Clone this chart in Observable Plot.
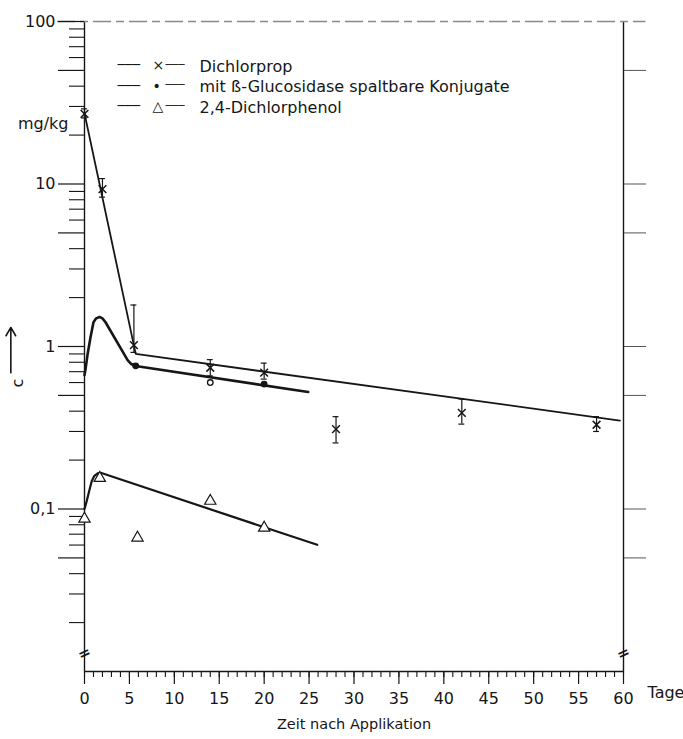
<!DOCTYPE html>
<html>
<head>
<meta charset="utf-8">
<script src="https://cdn.jsdelivr.net/npm/d3@7"></script>
<script src="https://cdn.jsdelivr.net/npm/@observablehq/plot@0.6"></script>
<style>
  html, body { margin: 0; padding: 0; background: #fff; }
  #chart svg { display: block; }
</style>
</head>
<body>
<div id="chart"></div>
<script>
// ---- Dichlorprop (measured, with error bars) ----
const dpDays = [0, 2, 5.5, 14, 20, 28, 42, 57];
const dpValues = [27, 9.3, 1.02, 0.74, 0.69, 0.31, 0.39, 0.33];
const dpLow = [25.5, 8.3, 0.92, 0.66, 0.63, 0.255, 0.333, 0.30];
const dpHigh = [29, 10.8, 1.8, 0.83, 0.79, 0.37, 0.475, 0.37];
// Dichlorprop fitted line
const dpFitDays = [0, 5.7, 59.6];
const dpFitValues = [27.2, 0.90, 0.35];

// ---- Conjugates cleavable by ß-Glucosidase ----
const cjDays = [5.7, 14, 20];
const cjValues = [0.76, 0.60, 0.587];
const cjOpen = [false, true, false];
const cjFitDays = [0, 0.1, 0.35, 0.67, 1.0, 1.3, 1.67, 2.0, 2.34, 4.8, 5.2, 5.7, 24.9];
const cjFitValues = [0.667, 0.716, 0.9, 1.14, 1.41, 1.49, 1.52, 1.49, 1.41, 0.825, 0.78, 0.758, 0.525];

// ---- 2,4-Dichlorphenol ----
const phDays = [0, 1.7, 5.9, 14, 20];
const phValues = [0.087, 0.155, 0.0665, 0.112, 0.0766];
const phFitDays = [0, 0.25, 0.55, 0.8, 1.1, 1.5, 1.8, 25.9];
const phFitValues = [0.1, 0.112, 0.131, 0.148, 0.160, 0.166, 0.167, 0.0602];

// ---- axes ----
const yMajorTicks = [100, 50, 10, 5, 1, 0.5, 0.1, 0.05];
const yMinorTicks = [90, 80, 70, 60, 40, 30, 20, 9, 8, 7, 6, 4, 3, 2, 0.9, 0.8, 0.7, 0.6, 0.4, 0.3, 0.2, 0.09, 0.08, 0.07, 0.06, 0.04, 0.03, 0.02];
const yRightTicks = [50, 10, 5, 1, 0.5, 0.1, 0.05];
const xMinorTicks = d3.range(0, 61, 1);
const xMajorTicks = d3.range(0, 61, 5);

// ---- legend ----
const legendLabels = ["Dichlorprop", "mit ß-Glucosidase spaltbare Konjugate", "2,4-Dichlorphenol"];
const legendSymbols = ["×", "•", "△"];

// ---- annotation (concentration arrow) ----
const arrowX = [-8.2];
const arrowFrom = [0.69];
const arrowTo = [1.31];
const breakMarkDays = [0, 60];
const breakMarkValue = 0.0129;

const ink = "#161616";
const font = "DejaVu Sans, sans-serif";
const germanFormat = d => String(d).replace(".", ",");

const dp = dpDays.map((d, i) => ({day: d, value: dpValues[i], lo: dpLow[i], hi: dpHigh[i]}));
const dpFit = dpFitDays.map((d, i) => ({day: d, value: dpFitValues[i]}));
const cj = cjDays.map((d, i) => ({day: d, value: cjValues[i], open: cjOpen[i]}));
const cjFit = cjFitDays.map((d, i) => ({day: d, value: cjFitValues[i]}));
const ph = phDays.map((d, i) => ({day: d, value: phValues[i]}));
const phFit = phFitDays.map((d, i) => ({day: d, value: phFitValues[i]}));
const capHalf = 0.33;

const legendMarks = legendLabels.flatMap((label, i) => {
  const dy = 39 + i * 20.5;
  return [
    Plot.text([label], {frameAnchor: "top-left", dx: 33, dy, text: () => "───", textAnchor: "start", fontSize: 12.5, fill: ink}),
    Plot.text([label], {frameAnchor: "top-left", dx: 68, dy, text: () => legendSymbols[i], fontSize: 14, fill: ink}),
    Plot.text([label], {frameAnchor: "top-left", dx: 81, dy, text: () => "───", textAnchor: "start", fontSize: 10.5, fill: ink}),
    Plot.text([label], {frameAnchor: "top-left", dx: 115, dy, textAnchor: "start", fontSize: 16, fill: ink})
  ];
});

const chart = Plot.plot({
  width: 683,
  height: 739,
  marginLeft: 84,
  marginRight: 60,
  marginTop: 21,
  marginBottom: 68,
  style: {fontFamily: font, color: ink, background: "#fff", overflow: "visible"},
  x: {domain: [0, 60]},
  y: {type: "log", domain: [0.01, 100]},
  marks: [
    // frame lines
    Plot.ruleX([0, 60], {stroke: ink, strokeWidth: 1.4}),
    Plot.ruleY([0.01], {stroke: ink, strokeWidth: 1.4}),
    Plot.ruleY([100], {x1: -3, x2: 62.5, stroke: "#888", strokeWidth: 1.3, strokeDasharray: "18,5,8,5"}),
    // axis break marks
    Plot.text(breakMarkDays, {x: d => d, y: () => breakMarkValue, text: () => "=", rotate: -25, fontSize: 15, fontWeight: "bold", fill: ink}),
    // y axes
    Plot.axisY({anchor: "left", ticks: yMajorTicks, tickSize: 26, tickPadding: 3, tickFormat: germanFormat, fontSize: 16, label: null, stroke: ink, strokeWidth: 1.2}),
    Plot.axisY({anchor: "left", ticks: yMinorTicks, tickSize: 15, tickFormat: () => "", label: null, stroke: ink, strokeWidth: 1.1}),
    Plot.axisY({anchor: "right", ticks: yRightTicks, tickSize: 22, tickFormat: () => "", label: null, stroke: "#555", strokeWidth: 1}),
    // x axes
    Plot.axisX({anchor: "bottom", ticks: xMinorTicks, tickSize: 6, tickFormat: () => "", label: null, stroke: ink, strokeWidth: 1.1}),
    Plot.axisX({anchor: "bottom", ticks: xMajorTicks, tickSize: 13, tickPadding: 8, fontSize: 16, label: null, stroke: ink, strokeWidth: 1.2}),
    Plot.text(["Tage"], {frameAnchor: "bottom-right", dx: 24, dy: 26, textAnchor: "start", fontSize: 16, fill: ink}),
    Plot.text(["Zeit nach Applikation"], {frameAnchor: "bottom", dy: 57, fontSize: 14.5, fill: ink}),
    // y unit and variable
    Plot.text(["mg/kg"], {frameAnchor: "top-left", dx: -16, dy: 96, textAnchor: "end", fontSize: 16, fill: ink}),
    Plot.text(["c"], {frameAnchor: "top-left", dx: -73, dy: 366, rotate: -90, fontSize: 16, fill: ink}),
    Plot.arrow(arrowX, {x: d => d, y1: (d, i) => arrowFrom[i], y2: (d, i) => arrowTo[i], stroke: ink, strokeWidth: 1.6, headLength: 9, clip: false}),
    // fitted lines
    Plot.line(dpFit, {x: "day", y: "value", stroke: ink, strokeWidth: 1.8}),
    Plot.line(cjFit, {x: "day", y: "value", stroke: ink, strokeWidth: 2.6, curve: "linear", strokeLinejoin: "round"}),
    Plot.line(phFit, {x: "day", y: "value", stroke: ink, strokeWidth: 2.2, curve: "linear", strokeLinejoin: "round"}),
    // Dichlorprop error bars
    Plot.ruleX(dp, {x: "day", y1: "lo", y2: "hi", stroke: ink, strokeWidth: 1.2}),
    Plot.ruleY(dp, {y: "hi", x1: d => d.day - capHalf, x2: d => d.day + capHalf, stroke: ink, strokeWidth: 1.2}),
    Plot.ruleY(dp, {y: "lo", x1: d => d.day - capHalf, x2: d => d.day + capHalf, stroke: ink, strokeWidth: 1.2}),
    Plot.dot(dp, {x: "day", y: "value", symbol: "times", r: 3.6, stroke: ink, strokeWidth: 1.5}),
    // conjugates
    Plot.dot(cj, {x: "day", y: "value", r: 2.8, fill: d => d.open ? "#fff" : ink, stroke: ink, strokeWidth: 1.3}),
    // dichlorphenol
    Plot.dot(ph, {x: "day", y: "value", symbol: "triangle", r: 4.2, fill: "#fff", stroke: ink, strokeWidth: 1.2}),
    // legend
    ...legendMarks
  ]
});
document.getElementById("chart").appendChild(chart);
</script>
</body>
</html>
